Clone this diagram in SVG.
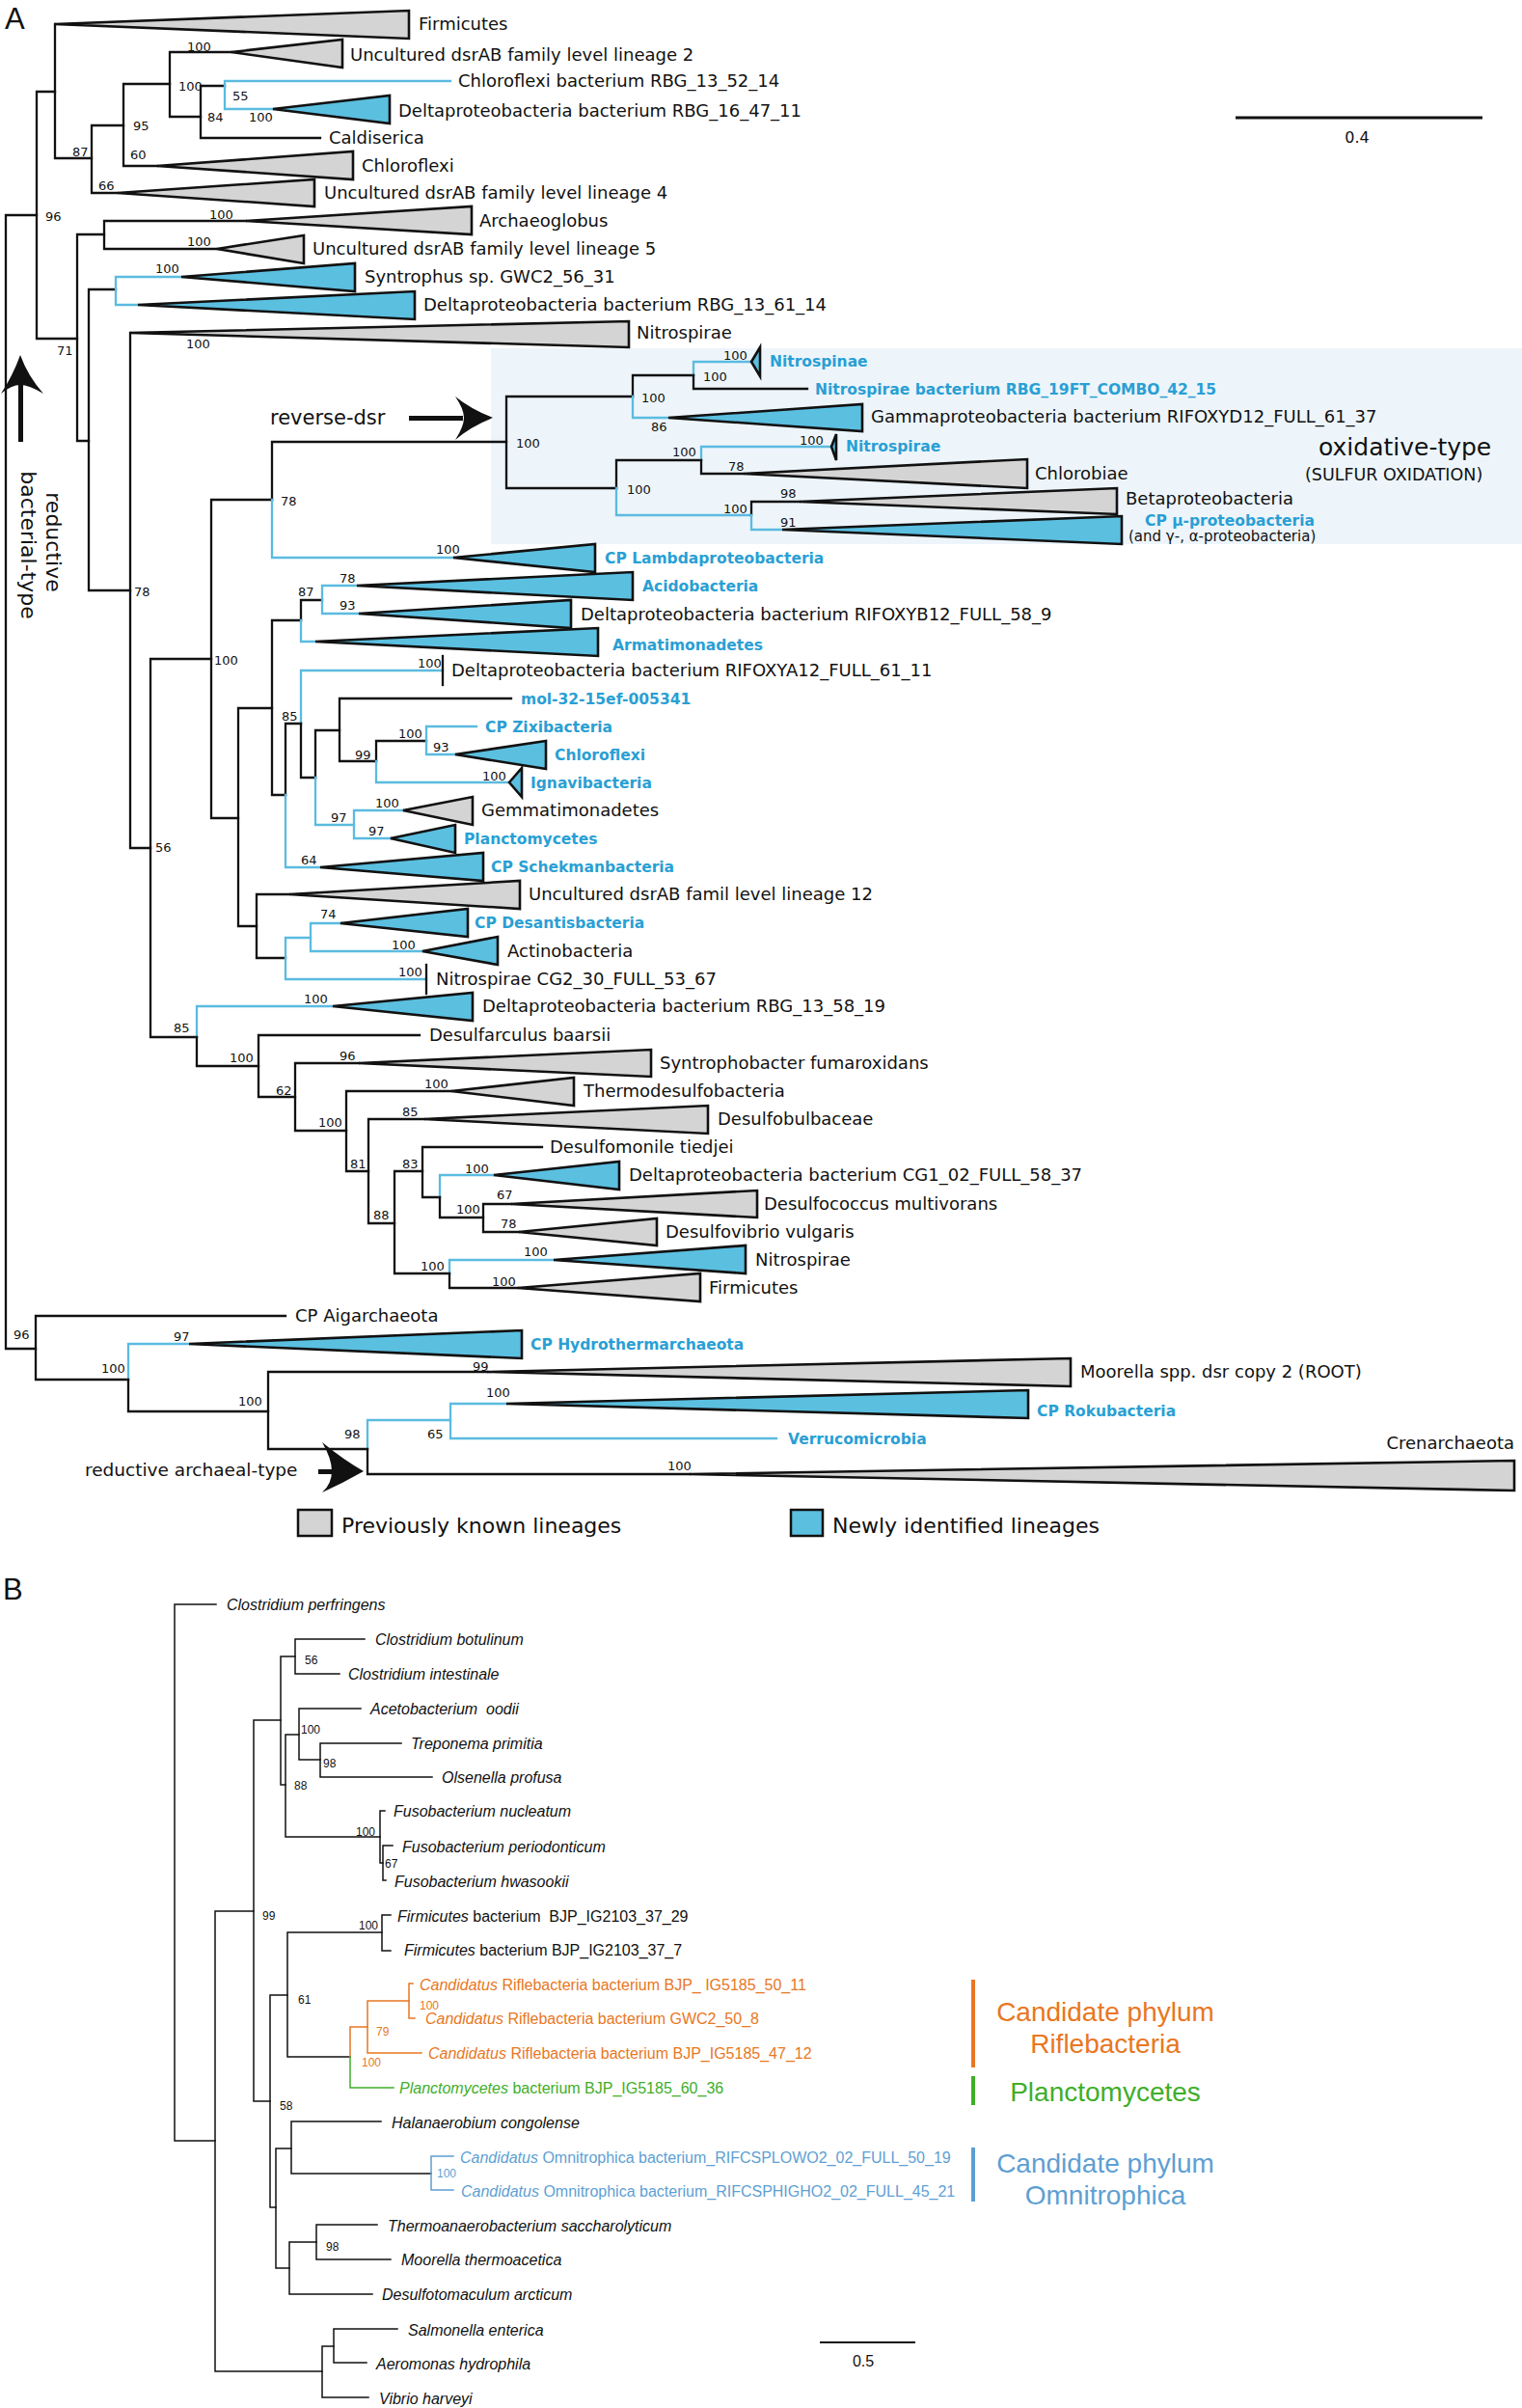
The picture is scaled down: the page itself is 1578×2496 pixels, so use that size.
<svg xmlns="http://www.w3.org/2000/svg" width="1578" height="2496" viewBox="0 0 1578 2496">
<style>
.br{fill:none;stroke:#111;stroke-width:2.3;stroke-linecap:square;stroke-linejoin:miter}
.cy{stroke:#5bbbe0}
.tg{fill:#d4d4d4;stroke:#111;stroke-width:2.6;stroke-linejoin:miter}
.tb{fill:#5bbfe0;stroke:#111;stroke-width:2.6;stroke-linejoin:miter}
.l{font-family:"DejaVu Sans",sans-serif;font-size:18px;fill:#111}
.lc{font-family:"DejaVu Sans",sans-serif;font-weight:bold;font-size:15.5px;fill:#2a9fd4}
.s{font-family:"DejaVu Sans",sans-serif;font-size:13px;fill:#111}
.big{font-family:"Liberation Sans",Arial,sans-serif;font-size:31px;fill:#111}
.bb{fill:none;stroke:#111;stroke-width:1.5;stroke-linecap:square}
.or{stroke:#e87722}
.gr{stroke:#3fae2a}
.bl{stroke:#5e9fd3}
.bt{font-family:"Liberation Sans",Arial,sans-serif;font-size:16px;fill:#111}
.it{font-style:italic}
.bs{font-family:"Liberation Sans",Arial,sans-serif;font-size:12px;fill:#111}
</style>
<rect width="1578" height="2496" fill="#fff"/>
<rect id="oxidative-box" x="509" y="361" width="1069" height="203" fill="#edf5fb"/>
<text class="big" x="5" y="30">A</text>
<g id="connectors">
<path class="br" d="M38,223 H6 V1398 H37"/>
<path class="br" d="M57,95 H38 V351 H80"/>
<path class="br" d="M57,25 V164 H95"/>
<path class="br" d="M128,130 H95 V200 H122"/>
<path class="br" d="M176,87 H128 V172 H163"/>
<path class="br" d="M240,54 H176 V121 H208"/>
<path class="br" d="M233,89 H208 V143 H332"/>
<path class="br cy" d="M467,84 H233 V113 H283"/>
<path class="br" d="M108,243 H80 V457 H92"/>
<path class="br" d="M255,229 H108 V258 H225"/>
<path class="br" d="M120,300 H92 V612 H135"/>
<path class="br cy" d="M188,287 H120 V316 H143"/>
<path class="br" d="M135,345 V879 H156"/>
<path class="br" d="M219,683 H156 V1075 H204"/>
<path class="br" d="M282,518 H219 V848 H247"/>
<path class="br" d="M525,458 H282 V518"/>
<path class="br cy" d="M282,518 V578 H470"/>
<path class="br" d="M656,411 H525 V506 H639"/>
<path class="br" d="M719,389 H656 V411"/>
<path class="br cy" d="M656,411 V433 H693"/>
<path class="br cy" d="M779,375 H719 V389"/>
<path class="br" d="M719,389 V403 H837"/>
<path class="br" d="M727,477 H639 V506"/>
<path class="br cy" d="M639,506 V534 H779"/>
<path class="br cy" d="M862,463 H727 V477"/>
<path class="br" d="M727,477 V491 H771"/>
<path class="br" d="M829,520 H779 V534"/>
<path class="br cy" d="M779,534 V549 H811"/>
<path class="br" d="M282,734 H247 V960 H266"/>
<path class="br" d="M312,643 H282 V824 H296"/>
<path class="br" d="M334,622 H312 V643"/>
<path class="br cy" d="M312,643 V665 H327"/>
<path class="br cy" d="M370,607 H334 V636 H372"/>
<path class="br" d="M312,750 H296 V824"/>
<path class="br cy" d="M296,824 V899 H332"/>
<path class="br cy" d="M459,695 H312 V750"/>
<path class="br" d="M312,750 V806 H327"/>
<path class="br" d="M459,680 V710"/>
<path class="br" d="M352,757 H327 V806"/>
<path class="br cy" d="M327,806 V855 H367"/>
<path class="br" d="M530,724 H352 V789 H390"/>
<path class="br" d="M442,768 H390 V789"/>
<path class="br cy" d="M390,789 V811 H528"/>
<path class="br cy" d="M494,753 H442 V782 H472"/>
<path class="br cy" d="M418,840 H367 V869 H405"/>
<path class="br" d="M300,927 H266 V993 H296"/>
<path class="br cy" d="M322,972 H296 V1015 H442"/>
<path class="br" d="M442,1000 V1030"/>
<path class="br cy" d="M353,957 H322 V986 H438"/>
<path class="br cy" d="M345,1043 H204 V1075"/>
<path class="br" d="M204,1075 V1105 H268"/>
<path class="br" d="M435,1073 H268 V1137 H306"/>
<path class="br" d="M372,1102 H306 V1172 H359"/>
<path class="br" d="M468,1131 H359 V1214 H382"/>
<path class="br" d="M440,1160 H382 V1268 H409"/>
<path class="br" d="M438,1214 H409 V1320 H466"/>
<path class="br" d="M562,1189 H438 V1241 H456"/>
<path class="br cy" d="M512,1218 H456 V1241"/>
<path class="br" d="M456,1241 V1262 H501"/>
<path class="br" d="M530,1248 H501 V1277 H538"/>
<path class="br cy" d="M574,1306 H466 V1320"/>
<path class="br" d="M466,1320 V1335 H537"/>
<path class="br" d="M296,1364 H37 V1430 H133"/>
<path class="br cy" d="M196,1393 H133 V1430"/>
<path class="br" d="M133,1430 V1463 H278"/>
<path class="br" d="M505,1422 H278 V1502 H381"/>
<path class="br cy" d="M467,1472 H381 V1502"/>
<path class="br" d="M381,1502 V1528 H715"/>
<path class="br cy" d="M525,1455 H467 V1491 H805"/>
</g>
<g id="n-firmicutes"><polygon class="tg" points="57,25 424,11 424,40"/><text class="l" x="434" y="31">Firmicutes</text></g>
<g id="n-lineage2"><polygon class="tg" points="240,54 355,41 355,70"/><text class="l" x="363" y="63">Uncultured dsrAB family level lineage 2</text></g>
<g id="n-chloroflexi-rbg"><text class="l" x="475" y="90">Chloroflexi bacterium RBG_13_52_14</text></g>
<g id="n-delta-rbg16"><polygon class="tb" points="283,113 404,99 404,128"/><text class="l" x="413" y="121">Deltaproteobacteria bacterium RBG_16_47_11</text></g>
<g id="n-caldiserica"><text class="l" x="341" y="149">Caldiserica</text></g>
<g id="n-chloroflexi"><polygon class="tg" points="163,172 366,157 366,186"/><text class="l" x="375" y="178">Chloroflexi</text></g>
<g id="n-lineage4"><polygon class="tg" points="122,200 326,186 326,214"/><text class="l" x="336" y="206">Uncultured dsrAB family level lineage 4</text></g>
<g id="n-archaeoglobus"><polygon class="tg" points="255,229 489,214 489,243"/><text class="l" x="497" y="235">Archaeoglobus</text></g>
<g id="n-lineage5"><polygon class="tg" points="225,258 315,244 315,273"/><text class="l" x="324" y="264">Uncultured dsrAB family level lineage 5</text></g>
<g id="n-syntrophus"><polygon class="tb" points="188,287 368,273 368,302"/><text class="l" x="378" y="293">Syntrophus sp. GWC2_56_31</text></g>
<g id="n-delta-rbg13-61"><polygon class="tb" points="143,316 430,302 430,331"/><text class="l" x="439" y="322">Deltaproteobacteria bacterium RBG_13_61_14</text></g>
<g id="n-nitrospirae1"><polygon class="tg" points="135,345 652,333 652,360"/><text class="l" x="660" y="351">Nitrospirae</text></g>
<g id="n-nitrospinae"><polygon class="tb" points="779,375 788,360 788,390"/><text class="lc" x="798" y="380">Nitrospinae</text></g>
<g id="n-nitrospirae-rbg19"><text class="lc" x="845" y="409">Nitrospirae bacterium RBG_19FT_COMBO_42_15</text></g>
<g id="n-gamma"><polygon class="tb" points="693,433 894,419 894,447"/><text class="l" x="903" y="438">Gammaproteobacteria bacterium RIFOXYD12_FULL_61_37</text></g>
<g id="n-nitrospirae2"><polygon class="tb" points="862,463 867,450 867,477"/><text class="lc" x="877" y="468">Nitrospirae</text></g>
<g id="n-chlorobiae"><polygon class="tg" points="771,491 1065,476 1065,506"/><text class="l" x="1073" y="497">Chlorobiae</text></g>
<g id="n-beta"><polygon class="tg" points="829,520 1158,506 1158,533"/><text class="l" x="1167" y="523">Betaproteobacteria</text></g>
<g id="n-mu"><polygon class="tb" points="811,549 1163,535 1163,564"/><text class="lc" x="1187" y="545">CP μ-proteobacteria</text><text class="l" x="1170" y="561" style="font-size:15px">(and γ-, α-proteobacteria)</text></g>
<g id="n-lambda"><polygon class="tb" points="470,578 617,564 617,593"/><text class="lc" x="627" y="584">CP Lambdaproteobacteria</text></g>
<g id="n-acido"><polygon class="tb" points="370,607 656,593 656,622"/><text class="lc" x="666" y="613">Acidobacteria</text></g>
<g id="n-delta-rifoxyb12"><polygon class="tb" points="372,636 592,622 592,651"/><text class="l" x="602" y="643">Deltaproteobacteria bacterium RIFOXYB12_FULL_58_9</text></g>
<g id="n-armati"><polygon class="tb" points="327,665 620,651 620,680"/><text class="lc" x="635" y="674">Armatimonadetes</text></g>
<g id="n-delta-rifoxya12"><text class="l" x="468" y="701">Deltaproteobacteria bacterium RIFOXYA12_FULL_61_11</text></g>
<g id="n-mol32"><text class="lc" x="540" y="730">mol-32-15ef-005341</text></g>
<g id="n-zixi"><text class="lc" x="503" y="759">CP Zixibacteria</text></g>
<g id="n-chloroflexi2"><polygon class="tb" points="472,782 566,768 566,797"/><text class="lc" x="575" y="788">Chloroflexi</text></g>
<g id="n-ignavi"><polygon class="tb" points="528,811 541,796 541,826"/><text class="lc" x="550" y="817">Ignavibacteria</text></g>
<g id="n-gemmati"><polygon class="tg" points="418,840 490,826 490,855"/><text class="l" x="499" y="846">Gemmatimonadetes</text></g>
<g id="n-plancto"><polygon class="tb" points="405,869 472,855 472,884"/><text class="lc" x="481" y="875">Planctomycetes</text></g>
<g id="n-schekman"><polygon class="tb" points="332,899 501,884 501,913"/><text class="lc" x="509" y="904">CP Schekmanbacteria</text></g>
<g id="n-lineage12"><polygon class="tg" points="300,927 539,913 539,942"/><text class="l" x="548" y="933">Uncultured dsrAB famil level lineage 12</text></g>
<g id="n-desantis"><polygon class="tb" points="353,957 485,942 485,971"/><text class="lc" x="492" y="962">CP Desantisbacteria</text></g>
<g id="n-actino"><polygon class="tb" points="438,986 516,971 516,1000"/><text class="l" x="526" y="992">Actinobacteria</text></g>
<g id="n-nitrospirae-cg2"><text class="l" x="452" y="1021">Nitrospirae CG2_30_FULL_53_67</text></g>
<g id="n-delta-rbg13-58"><polygon class="tb" points="345,1043 490,1029 490,1058"/><text class="l" x="500" y="1049">Deltaproteobacteria bacterium RBG_13_58_19</text></g>
<g id="n-desulfarculus"><text class="l" x="445" y="1079">Desulfarculus baarsii</text></g>
<g id="n-syntrophobacter"><polygon class="tg" points="372,1102 675,1088 675,1116"/><text class="l" x="684" y="1108">Syntrophobacter fumaroxidans</text></g>
<g id="n-thermodesulfo"><polygon class="tg" points="468,1131 595,1117 595,1146"/><text class="l" x="605" y="1137">Thermodesulfobacteria</text></g>
<g id="n-desulfobulb"><polygon class="tg" points="440,1160 734,1146 734,1175"/><text class="l" x="744" y="1166">Desulfobulbaceae</text></g>
<g id="n-desulfomonile"><text class="l" x="570" y="1195">Desulfomonile tiedjei</text></g>
<g id="n-delta-cg1"><polygon class="tb" points="512,1218 642,1204 642,1233"/><text class="l" x="652" y="1224">Deltaproteobacteria bacterium CG1_02_FULL_58_37</text></g>
<g id="n-desulfococcus"><polygon class="tg" points="530,1248 785,1234 785,1262"/><text class="l" x="792" y="1254">Desulfococcus multivorans</text></g>
<g id="n-desulfovibrio"><polygon class="tg" points="538,1277 681,1263 681,1291"/><text class="l" x="690" y="1283">Desulfovibrio vulgaris</text></g>
<g id="n-nitrospirae3"><polygon class="tb" points="574,1306 773,1291 773,1320"/><text class="l" x="783" y="1312">Nitrospirae</text></g>
<g id="n-firmicutes2"><polygon class="tg" points="537,1335 726,1320 726,1349"/><text class="l" x="735" y="1341">Firmicutes</text></g>
<g id="n-aigarch"><text class="l" x="306" y="1370">CP Aigarchaeota</text></g>
<g id="n-hydrotherm"><polygon class="tb" points="196,1393 541,1379 541,1408"/><text class="lc" x="550" y="1399">CP Hydrothermarchaeota</text></g>
<g id="n-moorella"><polygon class="tg" points="505,1422 1110,1408 1110,1437"/><text class="l" x="1120" y="1428">Moorella spp. dsr copy 2 (ROOT)</text></g>
<g id="n-roku"><polygon class="tb" points="525,1455 1066,1441 1066,1470"/><text class="lc" x="1075" y="1468">CP Rokubacteria</text></g>
<g id="n-verruco"><text class="lc" x="817" y="1497">Verrucomicrobia</text></g>
<g id="n-crenarch"><polygon class="tg" points="715,1528 1570,1514 1570,1545"/><text class="l" x="1570" y="1502" text-anchor="end">Crenarchaeota</text></g>
<g id="support-a" class="s">
<text x="194" y="53">100</text><text x="185" y="94">100</text><text x="241" y="104">55</text><text x="215" y="126">84</text><text x="258" y="126">100</text>
<text x="138" y="135">95</text><text x="75" y="162">87</text><text x="135" y="165">60</text><text x="102" y="197">66</text><text x="47" y="229">96</text>
<text x="217" y="227">100</text><text x="194" y="255">100</text><text x="161" y="283">100</text><text x="193" y="361">100</text><text x="59" y="368">71</text>
<text x="750" y="373">100</text><text x="729" y="395">100</text><text x="665" y="417">100</text><text x="675" y="447">86</text><text x="535" y="464">100</text>
<text x="829" y="461">100</text><text x="697" y="473">100</text><text x="755" y="488">78</text><text x="650" y="512">100</text><text x="809" y="516">98</text>
<text x="750" y="532">100</text><text x="809" y="546">91</text><text x="291" y="524">78</text><text x="452" y="574">100</text><text x="352" y="604">78</text>
<text x="309" y="618">87</text><text x="139" y="618">78</text><text x="352" y="632">93</text><text x="222" y="689">100</text><text x="433" y="692">100</text>
<text x="292" y="747">85</text><text x="413" y="765">100</text><text x="449" y="779">93</text><text x="368" y="787">99</text><text x="500" y="809">100</text>
<text x="389" y="837">100</text><text x="343" y="852">97</text><text x="382" y="866">97</text><text x="161" y="883">56</text><text x="312" y="896">64</text>
<text x="332" y="952">74</text><text x="406" y="984">100</text><text x="413" y="1012">100</text><text x="315" y="1040">100</text><text x="180" y="1070">85</text>
<text x="238" y="1101">100</text><text x="352" y="1099">96</text><text x="440" y="1128">100</text><text x="286" y="1135">62</text><text x="330" y="1168">100</text>
<text x="417" y="1157">85</text><text x="363" y="1211">81</text><text x="417" y="1211">83</text><text x="482" y="1216">100</text><text x="515" y="1243">67</text>
<text x="473" y="1258">100</text><text x="387" y="1264">88</text><text x="519" y="1273">78</text><text x="543" y="1302">100</text><text x="436" y="1317">100</text>
<text x="510" y="1333">100</text><text x="14" y="1388">96</text><text x="180" y="1390">97</text><text x="105" y="1423">100</text><text x="490" y="1421">99</text>
<text x="247" y="1457">100</text><text x="504" y="1448">100</text><text x="357" y="1491">98</text><text x="443" y="1491">65</text><text x="692" y="1524">100</text>
</g>
<g id="annotations-a">
<text class="l" x="280" y="440" style="font-size:21px">reverse-dsr</text>
<rect x="424" y="431" width="56" height="5" fill="#111"/>
<path d="M511,433 Q488,424 472,411 Q481,424 481,433 Q481,442 472,456 Q488,442 511,433 Z" fill="#111"/>
<text class="l" x="1367" y="472" style="font-size:25px">oxidative-type</text>
<text class="l" x="1353" y="498" style="font-size:17.5px">(SULFUR OXIDATION)</text>
<rect x="19" y="396" width="5" height="62" fill="#111"/>
<path d="M21,368 Q29,390 45,408 Q30,399 21,399 Q12,399 1,408 Q13,390 21,368 Z" fill="#111"/>
<text class="l" transform="translate(48,562) rotate(90)" text-anchor="middle" style="font-size:22px">reductive</text>
<text class="l" transform="translate(22,565) rotate(90)" text-anchor="middle" style="font-size:22px">bacterial-type</text>
<text class="l" x="88" y="1530" style="font-size:18.5px">reductive archaeal-type</text>
<rect x="330" y="1523" width="16" height="5" fill="#111"/>
<path d="M377,1525 Q356,1513 334,1495 Q344,1512 344,1525 Q344,1538 334,1547 Q356,1537 377,1525 Z" fill="#111"/>
<line x1="1281" y1="122" x2="1537" y2="122" stroke="#111" stroke-width="3"/>
<text class="l" x="1407" y="148" text-anchor="middle" style="font-size:16px">0.4</text>
</g>
<g id="legend">
<rect x="309" y="1565" width="35" height="27" fill="#d4d4d4" stroke="#111" stroke-width="2.5"/>
<text class="l" x="354" y="1589" style="font-size:22px">Previously known lineages</text>
<rect x="820" y="1565" width="33" height="27" fill="#5bbfe0" stroke="#111" stroke-width="2.5"/>
<text class="l" x="863" y="1589" style="font-size:22px">Newly identified lineages</text>
</g>
<text class="big" x="3" y="1658">B</text>
<g id="connectors-b">
<path class="bb" d="M224,1663 H181 V2219 H223"/>
<path class="bb" d="M263,1981 H223 V2458 H334"/>
<path class="bb" d="M291,1783 H263 V2178 H280"/>
<path class="bb" d="M306,1717 H291 V1850 H296"/>
<path class="bb" d="M378,1699 H306 V1735 H352"/>
<path class="bb" d="M310,1798 H296 V1904 H394"/>
<path class="bb" d="M374,1771 H310 V1824 H332"/>
<path class="bb" d="M416,1807 H332 V1842 H448"/>
<path class="bb" d="M399,1877 H394 V1931 H397"/>
<path class="bb" d="M407,1913 H397 V1949 H400"/>
<path class="bb" d="M298,2068 H280 V2288 H286"/>
<path class="bb" d="M396,2003 H298 V2132 H363"/>
<path class="bb" d="M405,1985 H396 V2022 H405"/>
<path class="bb or" d="M381,2101 H363 V2132"/>
<path class="bb gr" d="M363,2132 V2164 H408"/>
<path class="bb or" d="M424,2074 H381 V2128 H437"/>
<path class="bb or" d="M428,2056 H424 V2092 H430"/>
<path class="bb" d="M302,2227 H286 V2351 H300"/>
<path class="bb" d="M395,2199 H302 V2253 H447"/>
<path class="bb bl" d="M470,2235 H447 V2270 H470"/>
<path class="bb" d="M328,2324 H300 V2378 H386"/>
<path class="bb" d="M391,2306 H328 V2342 H405"/>
<path class="bb" d="M346,2432 H334 V2485 H382"/>
<path class="bb" d="M412,2414 H346 V2449 H380"/>
</g>
<g id="leaves-b" class="bt">
<text class="it" x="235" y="1669">Clostridium perfringens</text>
<text class="it" x="389" y="1705">Clostridium botulinum</text>
<text class="it" x="361" y="1741">Clostridium intestinale</text>
<text class="it" x="384" y="1777" xml:space="preserve">Acetobacterium  oodii</text>
<text class="it" x="426" y="1813">Treponema primitia</text>
<text class="it" x="458" y="1848">Olsenella profusa</text>
<text class="it" x="408" y="1883">Fusobacterium nucleatum</text>
<text class="it" x="417" y="1920">Fusobacterium periodonticum</text>
<text class="it" x="409" y="1956">Fusobacterium hwasookii</text>
<text x="412" y="1992" xml:space="preserve"><tspan class="it">Firmicutes</tspan> bacterium  BJP_IG2103_37_29</text>
<text x="419" y="2027"><tspan class="it">Firmicutes</tspan> bacterium BJP_IG2103_37_7</text>
<text x="435" y="2063" fill="#e87722"><tspan class="it">Candidatus</tspan> Riflebacteria bacterium BJP_ IG5185_50_11</text>
<text x="441" y="2098" fill="#e87722"><tspan class="it">Candidatus</tspan> Riflebacteria bacterium GWC2_50_8</text>
<text x="444" y="2134" fill="#e87722"><tspan class="it">Candidatus</tspan> Riflebacteria bacterium BJP_IG5185_47_12</text>
<text x="414" y="2170" fill="#3fae2a"><tspan class="it">Planctomycetes</tspan> bacterium BJP_IG5185_60_36</text>
<text class="it" x="406" y="2206">Halanaerobium congolense</text>
<text x="477" y="2242" fill="#5e9fd3"><tspan class="it">Candidatus</tspan> Omnitrophica bacterium_RIFCSPLOWO2_02_FULL_50_19</text>
<text x="478" y="2277" fill="#5e9fd3"><tspan class="it">Candidatus</tspan> Omnitrophica bacterium_RIFCSPHIGHO2_02_FULL_45_21</text>
<text class="it" x="402" y="2313">Thermoanaerobacterium saccharolyticum</text>
<text class="it" x="416" y="2348">Moorella thermoacetica</text>
<text class="it" x="396" y="2384">Desulfotomaculum arcticum</text>
<text class="it" x="423" y="2421">Salmonella enterica</text>
<text class="it" x="390" y="2456">Aeromonas hydrophila</text>
<text class="it" x="393" y="2492">Vibrio harveyi</text>
</g>
<g id="support-b" class="bs">
<text x="316" y="1725">56</text><text x="312" y="1797">100</text><text x="335" y="1832">98</text><text x="305" y="1855">88</text>
<text x="369" y="1903">100</text><text x="399" y="1936">67</text><text x="272" y="1990">99</text><text x="372" y="2000">100</text>
<text x="309" y="2077">61</text><text x="435" y="2083" fill="#e87722">100</text><text x="390" y="2110" fill="#e87722">79</text><text x="375" y="2142" fill="#e87722">100</text>
<text x="290" y="2187">58</text><text x="453" y="2257" fill="#5e9fd3">100</text><text x="338" y="2333">98</text>
</g>
<g id="groups-b" style="font-family:'Liberation Sans',Arial,sans-serif;font-size:28px" text-anchor="middle">
<rect x="1007" y="2052" width="4" height="91" fill="#e87722"/>
<text x="1146" y="2095" fill="#e87722">Candidate phylum</text>
<text x="1146" y="2128" fill="#e87722">Riflebacteria</text>
<rect x="1007" y="2152" width="4" height="30" fill="#3fae2a"/>
<text x="1146" y="2178" fill="#3fae2a">Planctomycetes</text>
<rect x="1007" y="2226" width="4" height="56" fill="#5e9fd3"/>
<text x="1146" y="2252" fill="#5e9fd3">Candidate phylum</text>
<text x="1146" y="2285" fill="#5e9fd3">Omnitrophica</text>
</g>
<g id="scale-b">
<line x1="850" y1="2428" x2="949" y2="2428" stroke="#111" stroke-width="1.8"/>
<text class="bt" x="895" y="2453" text-anchor="middle">0.5</text>
</g>
</svg>
